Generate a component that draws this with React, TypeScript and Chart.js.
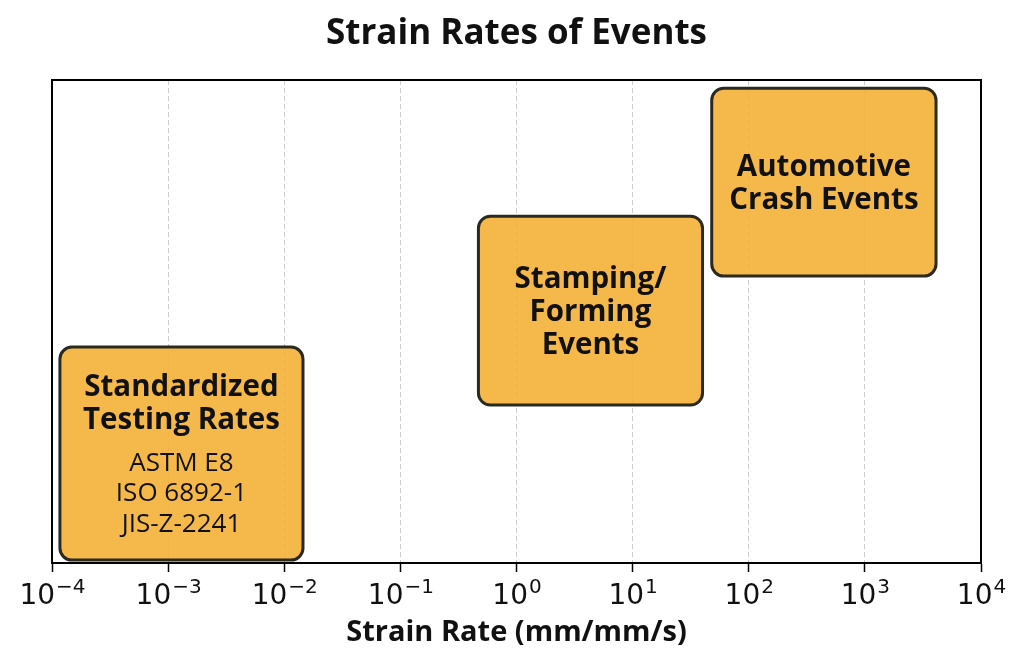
import React, { useEffect, useRef } from "react";
import { Chart, registerables } from "chart.js";

Chart.register(...registerables);

// ---- chart data ----
const chartTitle = "Strain Rates of Events";
const axisTitle = "Strain Rate (mm/mm/s)";
const decadeExponents = [-4, -3, -2, -1, 0, 1, 2, 3, 4];

const eventNames = ["Standardized Testing Rates", "Stamping/Forming Events", "Automotive Crash Events"];
const headlineLines = [["Standardized", "Testing Rates"], ["Stamping/", "Forming", "Events"], ["Automotive", "Crash Events"]];
const detailLines = [["ASTM E8", "ISO 6892-1", "JIS-Z-2241"], [], []];
// strain-rate span of each event (mm/mm/s)
const rateLow = [1.17e-4, 0.47, 48];
const rateHigh = [1.45e-2, 40, 4100];
// vertical band of each box on a 0-10 layout axis
const bandLow = [0.06, 3.27, 5.94];
const bandHigh = [4.47, 7.18, 9.83];

// ---- styles ----
const BOX_FILL = "rgba(244,177,55,0.9)";
const BOX_EDGE = "#2b2a20";
const TEXT = "#111111";
const SANS = "'Open Sans', 'Noto Sans', sans-serif";
const TICK_FONT = "'DejaVu Sans', sans-serif";
const HEAD_SIZE = 29.5;
const HEAD_LH = 33;
const DETAIL_SIZE = 26;
const DETAIL_LH = 30.5;
const GROUP_GAP = 11;

const superDigits = (e: number) => (e < 0 ? "\u2212" + Math.abs(e) : String(e));

const framePlugin = {
  id: "frame",
  beforeDatasetsDraw(chart: any) {
    const { ctx, chartArea } = chart;
    ctx.save();
    ctx.strokeStyle = "#000";
    ctx.lineWidth = 2;
    ctx.strokeRect(chartArea.left, chartArea.top, chartArea.right - chartArea.left, chartArea.bottom - chartArea.top);
    ctx.restore();
  },
};

const eventBoxesPlugin = {
  id: "eventBoxes",
  afterDatasetsDraw(chart: any) {
    const { ctx } = chart;
    const x = chart.scales.x;
    const y = chart.scales.y;
    eventNames.forEach((_, i) => {
      const left = x.getPixelForValue(rateLow[i]);
      const right = x.getPixelForValue(rateHigh[i]);
      const top = y.getPixelForValue(bandHigh[i]);
      const bottom = y.getPixelForValue(bandLow[i]);
      ctx.save();
      ctx.beginPath();
      ctx.roundRect(left, top, right - left, bottom - top, 12);
      ctx.fillStyle = BOX_FILL;
      ctx.fill();
      ctx.lineWidth = 3;
      ctx.strokeStyle = BOX_EDGE;
      ctx.stroke();

      const heads = headlineLines[i];
      const details = detailLines[i];
      const blockH = heads.length * HEAD_LH + (details.length ? GROUP_GAP + details.length * DETAIL_LH : 0);
      const cx = (left + right) / 2;
      let cursor = (top + bottom) / 2 - blockH / 2;
      ctx.fillStyle = TEXT;
      ctx.textAlign = "center";
      ctx.textBaseline = "alphabetic";
      ctx.font = `bold ${HEAD_SIZE}px ${SANS}`;
      heads.forEach((line) => {
        const capMid = cursor + HEAD_LH / 2;
        ctx.fillText(line, cx, capMid + HEAD_SIZE * 0.357);
        cursor += HEAD_LH;
      });
      if (details.length) {
        cursor += GROUP_GAP;
        ctx.font = `${DETAIL_SIZE}px ${SANS}`;
        details.forEach((line) => {
          const capMid = cursor + DETAIL_LH / 2;
          ctx.fillText(line, cx, capMid + DETAIL_SIZE * 0.357);
          cursor += DETAIL_LH;
        });
      }
      ctx.restore();
    });
  },
};

// power-of-ten tick labels with raised exponents
const decadeLabelsPlugin = {
  id: "decadeLabels",
  afterDraw(chart: any) {
    const { ctx } = chart;
    const x = chart.scales.x;
    const baseY = chart.chartArea.bottom + 41;
    ctx.save();
    ctx.fillStyle = TEXT;
    ctx.textBaseline = "alphabetic";
    ctx.textAlign = "left";
    decadeExponents.forEach((e) => {
      const px = x.getPixelForValue(Math.pow(10, e));
      ctx.font = `28px ${TICK_FONT}`;
      const wBase = ctx.measureText("10").width;
      ctx.font = `20px ${TICK_FONT}`;
      const sup = superDigits(e);
      const wSup = ctx.measureText(sup).width;
      const start = px - (wBase + wSup) / 2;
      ctx.font = `28px ${TICK_FONT}`;
      ctx.fillText("10", start, baseY);
      ctx.font = `20px ${TICK_FONT}`;
      ctx.fillText(sup, start + wBase + 1, baseY - 11);
    });
    ctx.restore();
  },
};

export default function App() {
  const canvasRef = useRef<HTMLCanvasElement | null>(null);

  useEffect(() => {
    const canvas = canvasRef.current;
    if (!canvas) return;
    const chart = new Chart(canvas, {
      type: "scatter",
      data: {
        datasets: eventNames.map((name, i) => ({
          label: name,
          data: [
            { x: rateLow[i], y: bandLow[i] },
            { x: rateHigh[i], y: bandHigh[i] },
          ],
          pointRadius: 0,
          showLine: false,
        })),
      },
      options: {
        responsive: false,
        animation: false,
        layout: { padding: { left: 52, right: 43, top: 0, bottom: 0 } },
        plugins: {
          legend: { display: false },
          tooltip: { enabled: false },
          title: {
            display: true,
            text: chartTitle,
            color: TEXT,
            font: { family: SANS, size: 35, weight: "bold" },
            padding: { top: 13, bottom: 25 },
          },
        },
        scales: {
          x: {
            type: "logarithmic",
            position: "bottom",
            min: 1e-4,
            max: 1e4,
            afterBuildTicks: (scale: any) => {
              scale.ticks = decadeExponents.map((e) => ({ value: Math.pow(10, e) }));
            },
            afterFit: (scale: any) => {
              scale.height = 105;
            },
            ticks: { display: false },
            grid: {
              display: true,
              drawOnChartArea: true,
              drawTicks: true,
              tickLength: 9,
              tickWidth: 1.5,
              tickColor: "#000",
              lineWidth: 1,
              color: (c: any) => {
                const v = c.tick ? c.tick.value : 0;
                return v <= 1e-4 || v >= 1e4 ? "rgba(0,0,0,0)" : "#cccccc";
              },
            },
            border: { display: true, color: "#000", width: 2, dash: [5, 3] },
            title: {
              display: true,
              text: axisTitle,
              color: TEXT,
              font: { family: SANS, size: 29, weight: "bold" },
              padding: { top: 0, bottom: 18 },
            },
          },
          y: {
            type: "linear",
            min: 0,
            max: 10,
            display: false,
          },
        },
      },
      plugins: [framePlugin, eventBoxesPlugin, decadeLabelsPlugin],
    });
    return () => chart.destroy();
  }, []);

  return (
    <div style={{ position: "fixed", left: 0, top: 0, width: 1024, height: 668, background: "#fff" }}>
      <canvas ref={canvasRef} width={1024} height={668} style={{ display: "block" }} />
    </div>
  );
}
